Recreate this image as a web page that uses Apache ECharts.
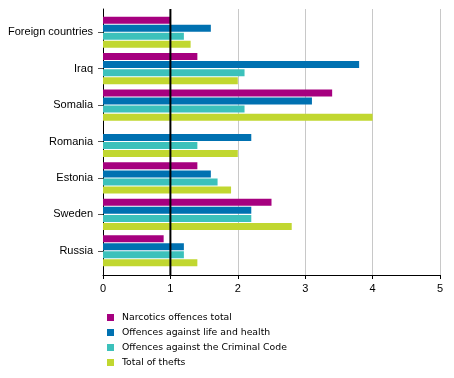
<!DOCTYPE html>
<html><head><meta charset="utf-8">
<script src="https://cdn.jsdelivr.net/npm/echarts@6/dist/echarts.min.js"></script>
<style>html,body{margin:0;padding:0;background:#fff}#c{width:454px;height:378px}</style>
</head><body><div id="c"></div>
<script>
const categories = ['Foreign countries','Iraq','Somalia','Romania','Estonia','Sweden','Russia'];
const seriesNames = ['Narcotics offences total','Offences against life and health','Offences against the Criminal Code','Total of thefts'];
const narcotics = [1.0, 1.4, 3.4, null, 1.4, 2.5, 0.9];
const lifeHealth = [1.6, 3.8, 3.1, 2.2, 1.6, 2.2, 1.2];
const criminalCode = [1.2, 2.1, 2.1, 1.4, 1.7, 2.2, 1.2];
const thefts = [1.3, 2.0, 4.0, 2.0, 1.9, 2.8, 1.4];
const xTicks = [0,1,2,3,4,5];
const referenceValue = 1;
const colors = ['#a6007f','#0071b1','#3cc1bb','#c1d730'];
const values = [narcotics, lifeHealth, criminalCode, thefts];

const chart = echarts.init(document.getElementById('c'));
const font = 'Arial, "Liberation Sans", sans-serif';
const series = values.map((v,i)=>({
  name: seriesNames[i], type:'bar', xAxisIndex:1, yAxisIndex:1,
  data: v, barWidth:7, barGap:'15%',
  itemStyle:{color:colors[i]}, silent:true
}));
series.push({
  type:'line', xAxisIndex:0, yAxisIndex:0, data:[[referenceValue,0],[referenceValue,1]],
  symbol:'none', lineStyle:{color:'#000', width:2}, z:10, silent:true
});
chart.setOption({
  animation:false,
  color: colors,
  grid:[
    {left:103, right:14, top:9, bottom:103},
    {left:103, right:14, top:14, bottom:109}
  ],
  xAxis:[
    {type:'value', gridIndex:0, min:xTicks[0], max:xTicks[xTicks.length-1], interval:1,
     axisLine:{show:true, lineStyle:{color:'#000'}},
     axisTick:{show:true, length:4, lineStyle:{color:'#000'}},
     axisLabel:{color:'#000', fontSize:11, fontFamily:font, margin:8},
     splitLine:{show:true, lineStyle:{color:['#c8c8c8'], width:1}}},
    {type:'value', gridIndex:1, min:0, max:5, show:false}
  ],
  yAxis:[
    {type:'value', gridIndex:0, min:0, max:1,
     axisLine:{show:true, lineStyle:{color:'#000'}}, axisTick:{show:false}, axisLabel:{show:false}, splitLine:{show:false}},
    {type:'category', gridIndex:1, data:categories, inverse:true,
     axisLine:{show:false},
     axisTick:{show:true, alignWithLabel:true, length:5, lineStyle:{color:'#555'}},
     axisLabel:{color:'#000', fontSize:11, fontFamily:font, margin:10}}
  ],
  legend:{
    orient:'vertical', left:102, top:308, height:70, itemWidth:7, itemHeight:7, itemGap:6,
    icon:'rect', data:seriesNames,
    textStyle:{fontSize:9.3, fontFamily:'"DejaVu Sans", Verdana, sans-serif', color:'#000', padding:[0,0,0,3]}
  },
  series: series
});
</script></body></html>
